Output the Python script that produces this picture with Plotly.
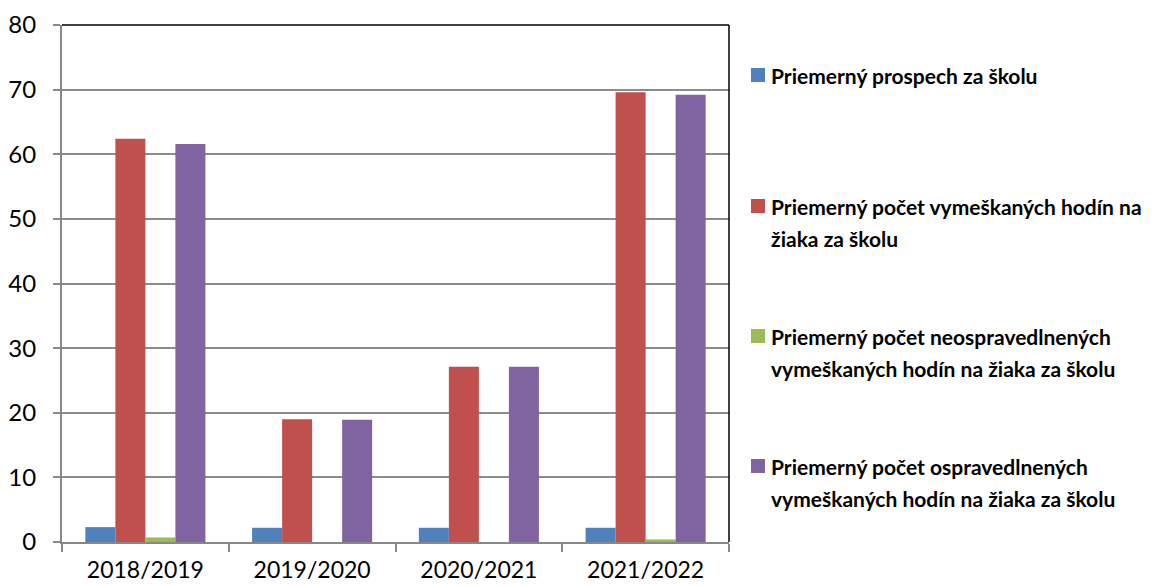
import plotly.graph_objects as go

years = ["2018/2019", "2019/2020", "2020/2021", "2021/2022"]
prospech = [2.3, 2.2, 2.2, 2.2]
vymeskane = [62.4, 19.0, 27.1, 69.6]
neospravedlnene = [0.7, 0.0, 0.0, 0.4]
ospravedlnene = [61.6, 18.9, 27.1, 69.2]

series_names = [
    "Priemerný prospech za školu",
    "Priemerný počet vymeškaných hodín na žiaka za školu",
    "Priemerný počet neospravedlnených vymeškaných hodín na žiaka za školu",
    "Priemerný počet ospravedlnených vymeškaných hodín na žiaka za školu",
]
legend_lines = [
    ["Priemerný prospech za školu"],
    ["Priemerný počet vymeškaných hodín na", "žiaka za školu"],
    ["Priemerný počet neospravedlnených", "vymeškaných hodín na žiaka za školu"],
    ["Priemerný počet ospravedlnených", "vymeškaných hodín na žiaka za školu"],
]
colors = ["#4f81bd", "#c0504d", "#9bbb59", "#8064a2"]
values = [prospech, vymeskane, neospravedlnene, ospravedlnene]

W, H = 1172, 586
L, R, T, B = 62, 729, 25, 542

fig = go.Figure()
for name, vals, c in zip(series_names, values, colors):
    fig.add_trace(go.Bar(x=years, y=vals, name=name, marker=dict(color=c, line=dict(width=0)),
                         showlegend=False))

def px_x(x):
    return (x - L) / (R - L)

def px_y(y):
    return (B - y) / (B - T)

shapes = [
    dict(type="line", xref="paper", yref="paper", x0=0, x1=1, y0=1, y1=1,
         line=dict(color="black", width=1.5)),
    dict(type="line", xref="paper", yref="paper", x0=1, x1=1, y0=0, y1=1,
         line=dict(color="black", width=1.5)),
]
annotations = []
item_y = [75, 206, 336, 466]
line_gap = 32
for lines, c, yc in zip(legend_lines, colors, item_y):
    shapes.append(dict(type="rect", xref="paper", yref="paper",
                       x0=px_x(751), x1=px_x(765), y0=px_y(yc + 7), y1=px_y(yc - 7),
                       fillcolor=c, line=dict(width=0)))
    for i, t in enumerate(lines):
        annotations.append(dict(text=t, xref="paper", yref="paper", x=px_x(769),
                                y=px_y(yc + i * line_gap), xanchor="left", yanchor="middle",
                                showarrow=False,
                                font=dict(family="Lato", size=21, color="black", weight="bold")))

fig.update_layout(
    width=W, height=H,
    margin=dict(l=L, r=W - R, t=T, b=H - B, pad=0, autoexpand=False),
    plot_bgcolor="white", paper_bgcolor="white",
    barmode="group", bargap=0.28, bargroupgap=0,
    shapes=shapes, annotations=annotations,
    font=dict(family="Lato", size=24, color="black"),
)
fig.update_xaxes(
    automargin=False,
    showgrid=False, showline=True, linecolor="#888888", linewidth=2,
    ticks="outside", tickson="boundaries", ticklen=8, tickcolor="#888888", tickwidth=2,
    tickfont=dict(family="Lato", size=23, color="black"), ticklabelstandoff=6,
)
fig.update_yaxes(
    automargin=False,
    range=[0, 80], dtick=10, showgrid=True, gridcolor="#8c8c8c", gridwidth=1.5,
    showline=True, linecolor="#888888", linewidth=2, zeroline=False,
    ticks="outside", ticklen=7, tickcolor="#888888", tickwidth=2,
    tickfont=dict(family="Lato", size=24, color="black"), ticklabelstandoff=12,
)
fig.write_html("out.html", config={"displayModeBar": False},
               post_script="document.body.style.margin='0';document.body.style.overflow='hidden';")
